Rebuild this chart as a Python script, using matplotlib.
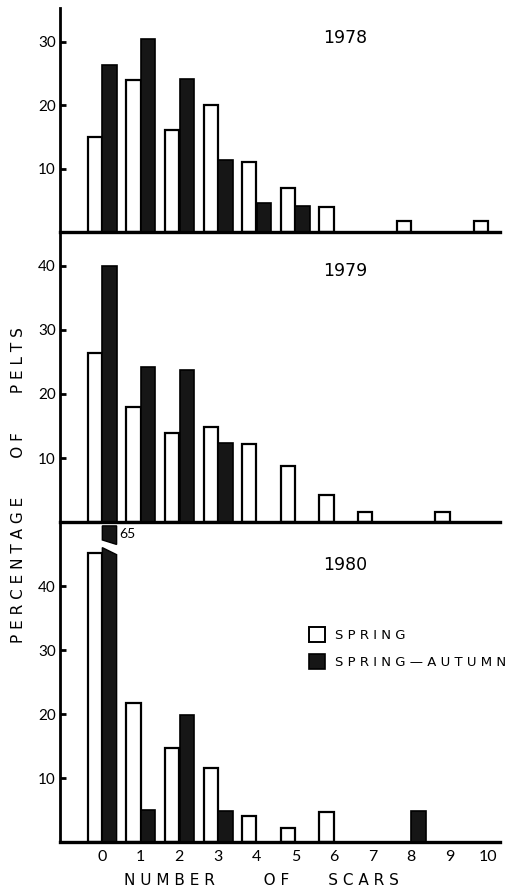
import matplotlib.pyplot as plt
from matplotlib.patches import Polygon, Patch
import numpy as np

plt.rcParams['font.family'] = ['Lato', 'DejaVu Sans']

scars = list(range(11))
years = ['1978', '1979', '1980']

spring = {
    '1978': [15, 24, 16, 20, 11, 7, 4, 0, 1.8, 0, 1.8],
    '1979': [26.4, 18, 13.9, 14.8, 12.2, 8.8, 4.2, 1.6, 0, 1.5, 0],
    '1980': [45.2, 21.7, 14.7, 11.6, 4.1, 2.2, 4.7, 0, 0, 0, 0],
}
spring_autumn = {
    '1978': [26.3, 30.4, 24.1, 11.3, 4.6, 4.1, 0, 0, 0, 0, 0],
    '1979': [40, 24.2, 23.7, 12.3, 0, 0, 0, 0, 0, 0, 0],
    '1980': [65, 5, 19.8, 4.8, 0, 0, 0, 0, 4.8, 0, 0],
}
y_max = {'1978': 35.3, '1979': 45.3, '1980': 50}
y_ticks = {'1978': [10, 20, 30], '1979': [10, 20, 30, 40], '1980': [10, 20, 30, 40]}

fig = plt.figure(figsize=(5.26, 8.91), dpi=100)
left, right = 0.1141, 0.9506
bounds = [(0.7396, 0.991), (0.4141, 0.7396), (0.0550, 0.4141)]

w = 0.37
off = 0.19
dark = '#161616'
cap = 45.6  # where the 65 bar is broken

axes = []
for yr, (b, t) in zip(years, bounds):
    ax = fig.add_axes([left, b, right - left, t - b])
    axes.append(ax)
    x = np.array(scars)
    s = np.array(spring[yr])
    sa = np.array(spring_autumn[yr])
    mask_s = s > 0
    ax.bar(x[mask_s] - off, s[mask_s], width=w, color='white',
           edgecolor='black', linewidth=1.6)
    big = sa > y_max[yr]
    mask_sa = (sa > 0) & ~big
    ax.bar(x[mask_sa] + off, sa[mask_sa], width=w, color=dark,
           edgecolor='black', linewidth=1.2)
    # broken bar for values beyond the axis
    for xi, v in zip(x[big], sa[big]):
        x0, x1 = xi + off - w / 2, xi + off + w / 2
        ax.add_patch(Polygon([(x0, 0), (x1, 0), (x1, cap - 0.7), (x0, cap + 0.4)],
                             closed=True, facecolor=dark, edgecolor='black', lw=1.0))
        ax.add_patch(Polygon([(x0, cap + 1.6), (x1, cap + 0.9), (x1, 49.4), (x0, 49.4)],
                             closed=True, facecolor=dark, edgecolor='black', lw=1.0,
                             clip_on=False))
        ax.text(x1 + 0.08, 48.2, f'{v:g}', fontsize=10, va='center', ha='left')

    ax.set_xlim(-1.09, 10.3)
    ax.set_ylim(0, y_max[yr])
    ax.set_yticks(y_ticks[yr])
    ax.tick_params(axis='y', direction='in', length=4, width=2, labelsize=11, pad=3)
    ax.spines['top'].set_visible(False)
    ax.spines['right'].set_visible(False)
    ax.spines['left'].set_linewidth(2)
    ax.spines['bottom'].set_linewidth(2.4)
    ax.patch.set_alpha(0)
    ax.text(0.648, 0.865, yr, transform=ax.transAxes, fontsize=12.5,
            ha='center', va='center', family='DejaVu Sans')
    if yr != '1980':
        ax.set_xticks([])
    else:
        ax.set_xticks(scars)
        ax.tick_params(axis='x', length=0, labelsize=11.5, pad=6)

handles = [Patch(facecolor='white', edgecolor='black', linewidth=1.4),
           Patch(facecolor=dark, edgecolor='black', linewidth=1.2)]
axes[2].legend(handles, ['S P R I N G', 'S P R I N G — A U T U M N'],
               loc='upper left', bbox_to_anchor=(0.54, 0.71), frameon=False,
               prop={'family': 'DejaVu Sans', 'size': 9.5},
               handlelength=1.15, handleheight=1.35,
               handletextpad=0.8, labelspacing=0.95)

fig.text(0.035, 0.456,
         'P E R C E N T A G E' + ' ' * 8 + 'O F' + ' ' * 8 + 'P E L T S',
         rotation=90, ha='center', va='center', fontsize=11, family='DejaVu Sans')
fig.text(0.497, 0.003,
         'N U M B E R' + ' ' * 10 + 'O F' + ' ' * 8 + 'S C A R S',
         ha='center', va='bottom', fontsize=11, family='DejaVu Sans')

fig.savefig('out.png', dpi=100)
